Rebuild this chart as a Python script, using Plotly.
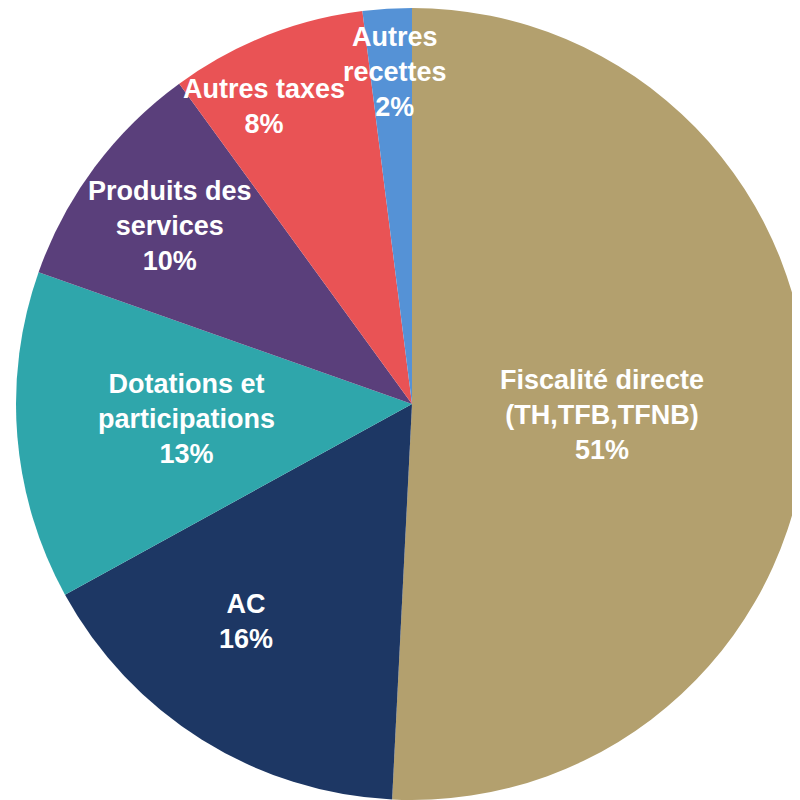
import numpy as np
import plotly.graph_objects as go

labels = [
    "Fiscalité directe<br>(TH,TFB,TFNB)",
    "AC",
    "Dotations et<br>participations",
    "Produits des<br>services",
    "Autres taxes",
    "Autres<br>recettes",
]
values = [50.8, 16.2, 13.4, 9.6, 8.0, 2.0]
colors = ["#B3A06E", "#1D3764", "#2FA6AB", "#5A3F7B", "#E95355", "#5592D6"]
# label placement: share of radius, and position along the slice (0 = start, 1 = end)
label_r = [0.48, 0.69, 0.57, 0.76, 0.84, 0.84]
label_f = [0.51, 0.59, 0.52, 0.49, 0.33, 0.60]

dom_x = [0.01, 1.0]
dom_y = [0.01, 1.0]
W = H = 800

fig = go.Figure(
    go.Pie(
        labels=labels,
        values=values,
        sort=False,
        direction="clockwise",
        rotation=0,
        marker=dict(colors=colors, line=dict(width=0)),
        textinfo="none",
        hoverinfo="label+percent",
        domain=dict(x=dom_x, y=dom_y),
        showlegend=False,
    )
)

# place labels from the slice angles
cx = (dom_x[0] + dom_x[1]) / 2 * W
cy = (dom_y[0] + dom_y[1]) / 2 * H
radius = min((dom_x[1] - dom_x[0]) * W, (dom_y[1] - dom_y[0]) * H) / 2
total = sum(values)
cum = np.cumsum([0] + values)
for i, lab in enumerate(labels):
    ang = (cum[i] + label_f[i] * values[i]) / total * 2 * np.pi
    px_ = cx + label_r[i] * radius * np.sin(ang)
    py_ = cy + label_r[i] * radius * np.cos(ang)
    pct = round(values[i] / total * 100)
    fig.add_annotation(
        x=px_ / W,
        y=py_ / H,
        xref="paper",
        yref="paper",
        xanchor="center",
        yanchor="middle",
        text=f"<b>{lab}<br>{pct}%</b>",
        showarrow=False,
        font=dict(family="Liberation Sans, Arial", size=27, color="white"),
        align="center",
    )

fig.update_layout(
    width=W,
    height=H,
    margin=dict(l=0, r=0, t=0, b=0),
    paper_bgcolor="white",
    plot_bgcolor="white",
)
fig.write_html("out.html")
